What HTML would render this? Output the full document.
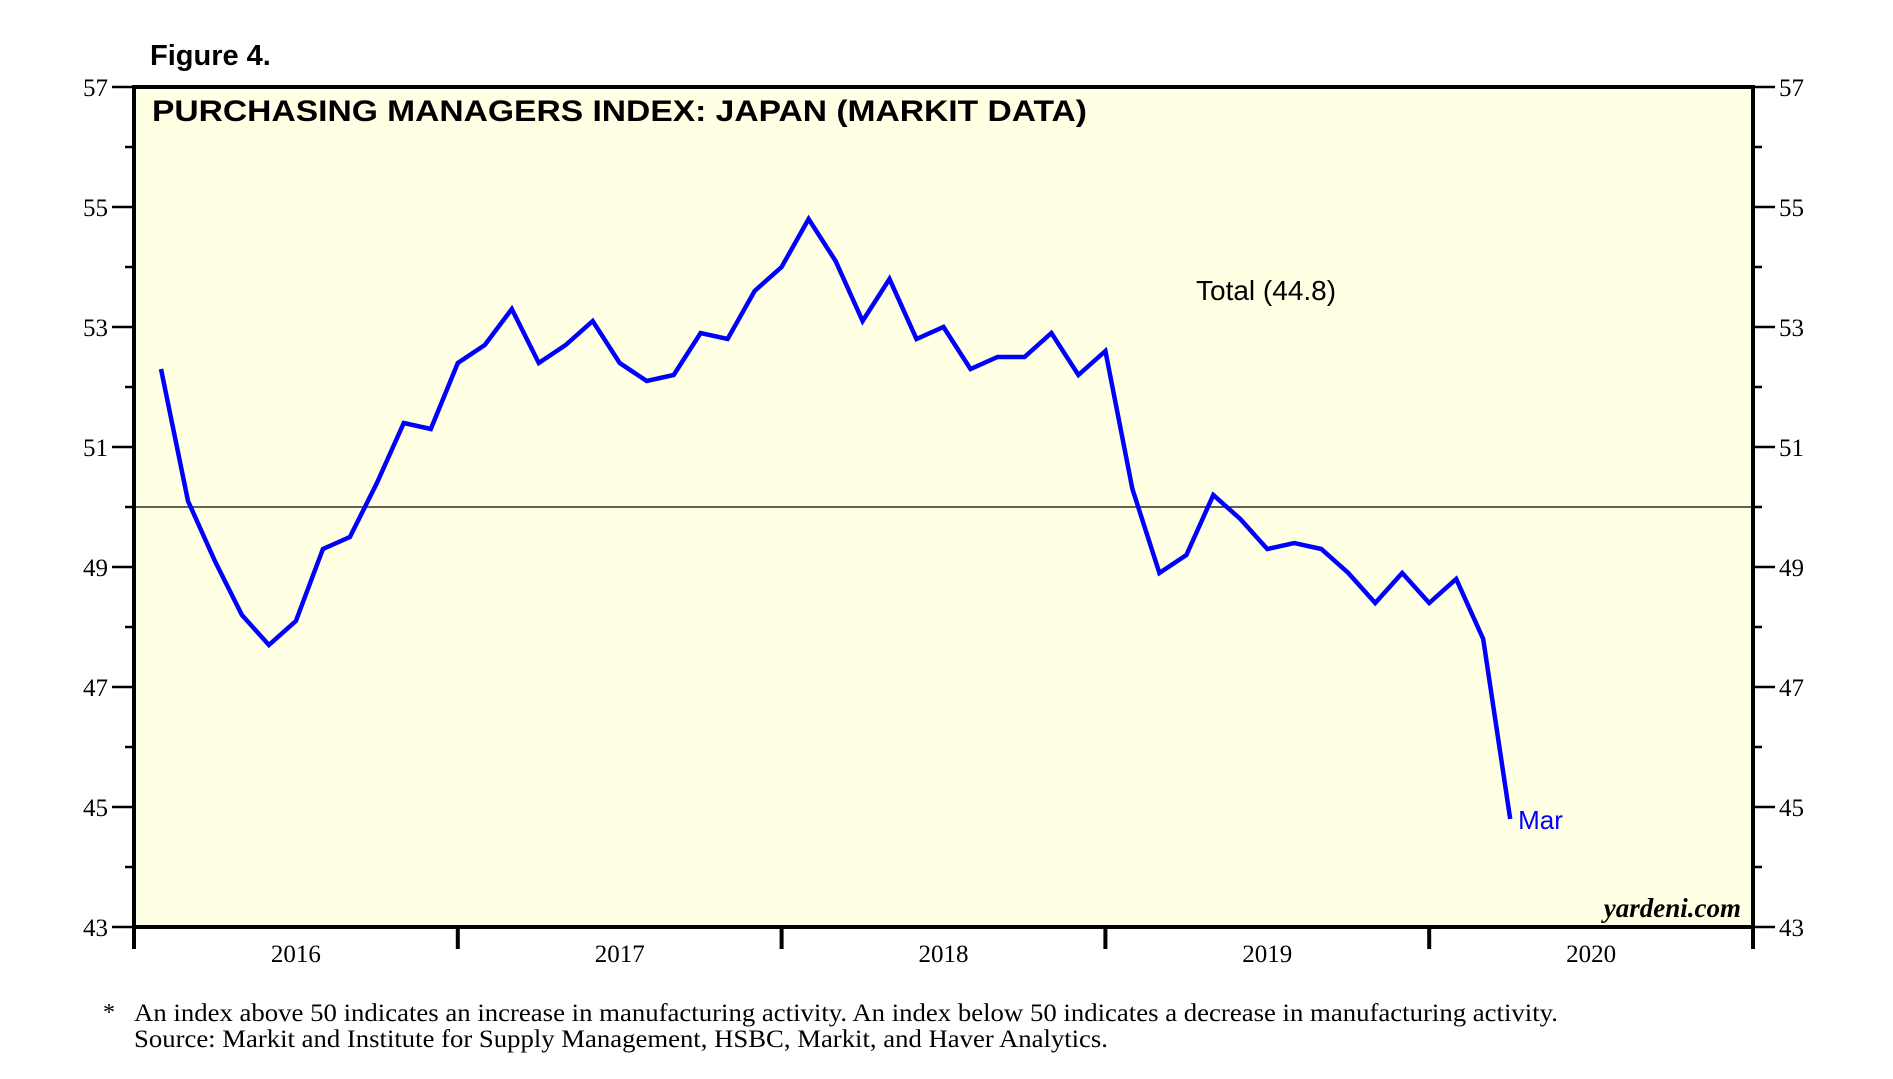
<!DOCTYPE html>
<html><head><meta charset="utf-8"><style>
html,body{margin:0;padding:0;background:#fff;}
svg{display:block;}
</style></head><body>
<svg id="chart" width="1893" height="1079" viewBox="0 0 1893 1079" xmlns="http://www.w3.org/2000/svg">
<text x="150" y="65" font-family="Liberation Sans, sans-serif" font-weight="bold" font-size="29">Figure 4.</text>
<rect x="134" y="87" width="1619" height="840" fill="#FFFFE4"/>
<g id="grid"></g>
<g id="series"></g>
<rect x="134" y="87" width="1619" height="840" fill="none" stroke="#000" stroke-width="4"/>
<text x="152" y="121" font-family="Liberation Sans, sans-serif" font-weight="bold" font-size="30" textLength="935" lengthAdjust="spacingAndGlyphs">PURCHASING MANAGERS INDEX: JAPAN (MARKIT DATA)</text>
<text x="1196" y="300" font-family="Liberation Sans, sans-serif" font-size="28">Total (44.8)</text>
<text x="1741" y="917" text-anchor="end" font-family="Liberation Serif, serif" font-style="italic" font-weight="bold" font-size="27">yardeni.com</text>
<g id="axes"></g>
<text x="103" y="1020" font-family="Liberation Serif, serif" font-size="24">*</text>
<text x="134" y="1021" font-family="Liberation Serif, serif" font-size="25" textLength="1424" lengthAdjust="spacingAndGlyphs">An index above 50 indicates an increase in manufacturing activity. An index below 50 indicates a decrease in manufacturing activity.</text>
<text x="134" y="1047" font-family="Liberation Serif, serif" font-size="25" textLength="974" lengthAdjust="spacingAndGlyphs">Source: Markit and Institute for Supply Management, HSBC, Markit, and Haver Analytics.</text>
</svg>
<script>
const values = [52.3,50.1,49.1,48.2,47.7,48.1,49.3,49.5,50.4,51.4,51.3,52.4,
52.7,53.3,52.4,52.7,53.1,52.4,52.1,52.2,52.9,52.8,53.6,54.0,
54.8,54.1,53.1,53.8,52.8,53.0,52.3,52.5,52.5,52.9,52.2,52.6,
50.3,48.9,49.2,50.2,49.8,49.3,49.4,49.3,48.9,48.4,48.9,48.4,
48.8,47.8,44.8];
const yTicks = [43,45,47,49,51,53,55,57];
const years = ["2016","2017","2018","2019","2020"];
const NS = "http://www.w3.org/2000/svg";
const L=134,R=1753,T=87,B=927;
const yMin=43,yMax=57;
const monthW=(R-L)/60;
function y(v){return B-(v-yMin)/(yMax-yMin)*(B-T);}
function x(i){return L+(i+1)*monthW;}
function mk(tag,attrs,parent){const e=document.createElementNS(NS,tag);for(const k in attrs)e.setAttribute(k,attrs[k]);parent.appendChild(e);return e;}
const axes=document.getElementById('axes'),grid=document.getElementById('grid'),series=document.getElementById('series');
const ref=mk('line',{x1:L,x2:R,y1:y(50),y2:y(50),stroke:'#000','stroke-width':1.2},grid);


for(let v=yMin;v<=yMax;v++){
  const major=yTicks.includes(v);
  const len=major?22:9;
  const tl=mk('line',{x1:L-len,x2:L,y1:y(v),y2:y(v),stroke:'#000','stroke-width':2.5},axes);
  
  
  const tr=mk('line',{x1:R,x2:R+len,y1:y(v),y2:y(v),stroke:'#000','stroke-width':2.5},axes);
  
  
  if(major){
    const a=mk('text',{x:L-26,y:y(v)+9,'text-anchor':'end','font-family':'Liberation Serif, serif','font-size':25},axes);
    a.textContent=v;
    
    
    const b=mk('text',{x:R+26,y:y(v)+9,'font-family':'Liberation Serif, serif','font-size':25},axes);
    b.textContent=v;
    
    
  }
}
for(let k=0;k<=years.length;k++){
  const xx=L+k*12*monthW;
  const t=mk('line',{x1:xx,x2:xx,y1:B,y2:B+22,stroke:'#000','stroke-width':4},axes);
  
  
  if(k<years.length){
    const lb=mk('text',{x:xx+6*monthW,y:962,'text-anchor':'middle','font-family':'Liberation Serif, serif','font-size':25},axes);
    lb.textContent=years[k];
    
    
  }
}
const pts=values.map((v,i)=>x(i).toFixed(1)+','+y(v).toFixed(1)).join(' ');
const line=mk('polyline',{points:pts,fill:'none',stroke:'#0000FF','stroke-width':4.5,'stroke-linejoin':'miter'},series);


const last=values.length-1;
const mar=mk('text',{x:x(last)+8,y:y(values[last])+10,fill:'#0000FF','font-family':'Liberation Sans, sans-serif','font-size':26},series);
mar.textContent='Mar';


</script>
</body></html>
